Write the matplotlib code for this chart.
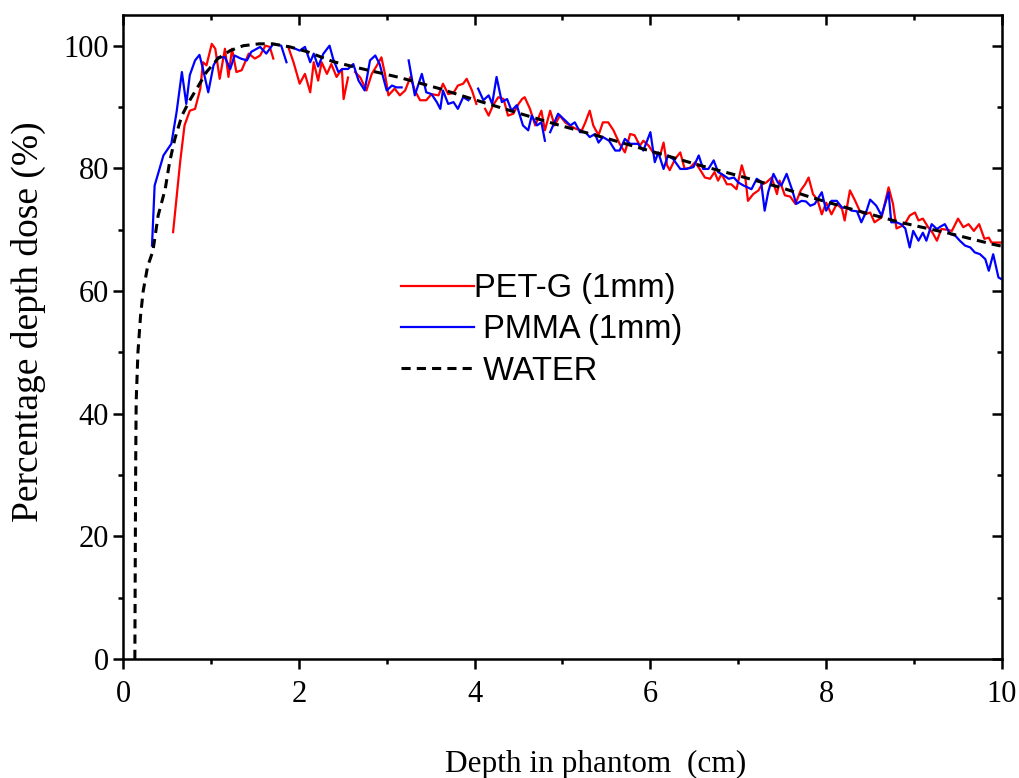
import numpy as np
import matplotlib.pyplot as plt
from matplotlib.ticker import MultipleLocator

nan = np.nan

# PET-G (1mm) (nan = break in the line)
petg_x = [0.57, 0.65, 0.70, 0.76, 0.82, 0.88, 0.91, 0.95, 1.01, 1.05, 1.10, 1.16, 1.20, 1.24, 1.29, 1.35,
          1.43, 1.50, 1.56, 1.62, 1.67, 1.71, 1.80, 1.88, 1.94, 2.01, 2.07, 2.13, 2.17, 2.22, 2.26, 2.32,
          2.37, 2.43, 2.49, 2.51, 2.56, 2.60, 2.64, 2.70, 2.77, 2.83, 2.89, 2.94, 2.98, 3.02, 3.09, 3.15,
          3.21, 3.27, 3.32, 3.38, 3.45, 3.51, 3.59, 3.64, 3.70, 3.76, 3.81, 3.87, 3.91, 3.97, 4.02, 4.07,
          4.12, 4.16, 4.21, 4.27, 4.33, 4.38, 4.44, 4.50, 4.54, 4.57, 4.63, 4.69, 4.76, 4.80, 4.86, 4.91,
          4.97, 5.03, 5.09, 5.16, 5.22, 5.26, 5.31, 5.35, 5.41, 5.46, 5.52, 5.58, 5.65, 5.71, 5.77, 5.82,
          5.88, 5.92, 5.98, 6.03, 6.11, 6.15, 6.19, 6.22, 6.28, 6.34, 6.39, 6.45, 6.51, 6.56, 6.62, 6.68,
          6.73, 6.77, 6.81, 6.87, 6.92, 6.98, 7.04, 7.08, 7.11, 7.17, 7.23, 7.27, 7.32, 7.38, 7.44, 7.47,
          7.53, 7.59, 7.65, 7.71, 7.76, 7.80, 7.85, 7.90, 7.95, 8.00, 8.06, 8.12, 8.18, 8.21, 8.27, 8.33,
          8.38, 8.44, 8.50, 8.55, 8.63, 8.71, 8.76, 8.80, 8.86, 8.91, 8.95, 9.01, 9.05, 9.10, 9.16, 9.21,
          9.26, 9.31, 9.37, 9.43, 9.50, 9.56, 9.62, 9.68, 9.74, 9.80, 9.85, 9.88, 9.96, 10.0]
petg_y = [69.6, 81.0, 87.0, 89.4, 89.7, 93.0, 97.3, 96.8, 100.3, 99.5, 94.6, 99.5, 94.9, 99.5, 95.7, 96.0,
          98.7, 97.9, 98.4, 100.0, 99.8, 97.9, nan, 99.8, 97.3, 93.8, 95.4, 92.4, 97.3, 94.3, 97.3, 95.4,
          97.0, 94.9, 96.2, 91.3, 94.8, nan, 95.7, 94.8, 92.7, 95.4, 96.8, 98.1, 95.4, 91.9, 93.0, 91.9,
          92.7, 94.9, 92.7, 91.1, 91.1, 92.1, 91.9, 93.8, 92.1, 92.3, 93.5, 93.8, 94.6, 92.7, 90.5, nan,
          89.7, 88.6, 90.3, 91.6, 91.3, 88.6, 88.9, 90.5, 91.3, 91.6, 89.7, 87.0, 89.4, 86.2, 89.4, 87.0,
          88.6, 87.5, 86.9, 86.4, 86.2, 87.5, 89.4, 87.0, 85.4, 87.5, 87.5, 86.2, 84.0, 82.6, 85.6, 85.4,
          83.7, 84.5, 83.7, 82.6, 82.1, 84.2, 80.5, 79.7, 81.5, 82.6, 79.9, 80.1, 81.0, 79.9, 78.5, 78.3,
          79.4, 78.0, 79.1, 77.4, 77.4, 76.6, 80.5, 78.5, 74.7, 75.8, 76.4, 77.4, 77.7, 78.5, 75.8, 78.0,
          75.6, 75.4, 74.2, 76.4, 77.4, 78.5, 75.8, 74.9, 72.5, 74.4, 72.5, 74.2, 73.4, 71.5, 76.4, 74.7,
          73.1, 72.5, 72.8, 71.2, 72.0, 76.9, 74.2, 70.2, 70.6, 71.3, 72.3, 72.8, 71.5, 71.8, 70.4, 69.5,
          68.2, 70.1, 70.0, 69.8, 71.8, 70.4, 70.9, 69.8, 70.9, 68.5, 68.7, 67.9, 67.9, 67.9]

# PMMA (1mm)
pmma_x = [0.33, 0.36, 0.46, 0.55, 0.61, 0.67, 0.72, 0.76, 0.82, 0.87, 0.91, 0.97, 1.03, 1.08, 1.16, 1.22,
          1.27, 1.34, 1.41, 1.46, 1.56, 1.63, 1.71, 1.80, 1.86, 1.91, 1.96, 2.01, 2.07, 2.13, 2.17, 2.22,
          2.28, 2.35, 2.39, 2.45, 2.50, 2.56, 2.62, 2.68, 2.75, 2.81, 2.87, 2.92, 3.00, 3.06, 3.11, 3.17,
          3.21, 3.25, 3.32, 3.40, 3.45, 3.51, 3.57, 3.61, 3.64, 3.70, 3.76, 3.81, 3.87, 3.93, 3.98, 4.04,
          4.10, 4.16, 4.20, 4.25, 4.31, 4.37, 4.42, 4.48, 4.55, 4.61, 4.65, 4.71, 4.76, 4.80, 4.83, 4.86,
          4.95, 5.03, 5.09, 5.14, 5.20, 5.26, 5.31, 5.37, 5.41, 5.46, 5.53, 5.60, 5.65, 5.71, 5.77, 5.86,
          5.92, 6.00, 6.05, 6.09, 6.15, 6.20, 6.26, 6.34, 6.41, 6.49, 6.55, 6.60, 6.66, 6.72, 6.77, 6.83,
          6.89, 6.95, 7.00, 7.06, 7.15, 7.21, 7.26, 7.30, 7.34, 7.40, 7.45, 7.49, 7.55, 7.61, 7.66, 7.72,
          7.77, 7.82, 7.87, 7.95, 8.00, 8.06, 8.12, 8.18, 8.23, 8.29, 8.35, 8.40, 8.46, 8.50, 8.57, 8.63,
          8.71, 8.74, 8.80, 8.85, 8.90, 8.95, 8.99, 9.05, 9.10, 9.14, 9.20, 9.26, 9.30, 9.35, 9.41, 9.47,
          9.52, 9.58, 9.64, 9.69, 9.75, 9.81, 9.85, 9.90, 9.96, 10.0]
pmma_y = [67.4, 77.2, 82.1, 84.0, 89.2, 95.7, 90.5, 95.2, 97.6, 98.5, 96.2, 92.4, 96.8, 98.1, 98.1, 96.2,
          98.4, 97.9, 97.6, 99.0, 99.8, 98.7, 100.3, 100.0, 97.3, nan, 99.5, 99.2, 99.8, 97.3, 98.7, 96.6,
          98.7, 100.0, 97.9, 95.7, 96.2, 96.2, 97.0, 94.3, 92.7, 97.6, 98.4, 97.0, 92.7, 93.5, 93.2, 93.2,
          nan, 97.6, 91.9, 95.4, 92.4, 92.1, 90.8, 89.7, 92.7, 90.5, 90.8, 89.7, 91.6, 91.1, nan, 93.0,
          91.1, 91.9, 90.5, 94.9, 90.8, 91.3, 89.4, 90.3, 87.0, 86.2, 88.6, 87.0, 87.5, 84.5, nan, 85.9,
          88.9, 87.8, 87.0, 87.5, 85.9, 85.9, 85.1, 85.6, 84.2, 85.1, 84.5, 82.9, 82.9, 84.8, 84.0, 84.0,
          82.9, 85.9, 81.0, 82.6, 79.9, 82.1, 81.5, 79.9, 79.9, 80.2, 82.1, 79.9, 79.9, 81.3, 79.4, 78.9,
          78.3, 78.5, 77.7, 77.2, 76.6, 78.3, 77.8, 73.1, 76.1, 79.1, 77.7, 77.2, 79.1, 76.6, 74.2, 74.7,
          74.6, 73.9, 74.2, 76.1, 73.1, 74.7, 74.7, 73.6, 73.6, 73.1, 73.0, 71.2, 73.1, 74.9, 73.9, 72.3,
          76.1, 71.2, 71.2, 70.9, 70.2, 67.1, 69.8, 68.2, 69.5, 68.2, 70.9, 70.1, 70.5, 70.9, 69.3, 69.0,
          68.2, 67.4, 67.1, 66.3, 66.0, 65.2, 63.3, 66.0, 62.2, 61.9]

# WATER
water_x = [0.135, 0.14, 0.145, 0.15, 0.17, 0.20, 0.23, 0.28, 0.34, 0.40, 0.48, 0.53, 0.59, 0.67, 0.76,
           0.86, 0.95, 1.08, 1.22, 1.37, 1.55, 1.70, 1.90, 2.10, 2.39, 2.70, 3.15, 3.60, 4.02, 4.50, 4.97,
           5.50, 6.03, 6.56, 7.00, 7.50, 7.82, 8.30, 8.84, 9.40, 9.90, 10.0]
water_y = [0.0, 18.0, 33.0, 42.0, 50.0, 56.0, 60.0, 64.0, 66.5, 72.3, 76.6, 81.0, 84.8, 88.6, 91.1,
           93.5, 95.7, 97.9, 99.2, 100.0, 100.3, 100.3, 99.8, 99.0, 97.4, 96.3, 94.8, 93.0, 91.1, 89.0, 87.0,
           84.9, 82.7, 80.5, 78.8, 76.8, 75.3, 73.3, 71.2, 69.4, 67.6, 67.3]

fig = plt.figure(figsize=(10.19, 7.78), dpi=100)
ax = fig.add_axes([0.1207, 0.153, 0.8626, 0.8277])

ax.plot(petg_x, petg_y, color='#ff0000', lw=1.6, label='PET-G (1mm)')
ax.plot(pmma_x, pmma_y, color='#0000ff', lw=1.6, label=' PMMA (1mm)')
ax.plot(water_x, water_y, color='black', lw=2.2, ls=(0, (3, 2)), label=' WATER')

ax.set_xlim(0, 10)
ax.set_ylim(0, 105)
ax.xaxis.set_major_locator(MultipleLocator(2))
ax.xaxis.set_minor_locator(MultipleLocator(1))
ax.yaxis.set_major_locator(MultipleLocator(20))
ax.yaxis.set_minor_locator(MultipleLocator(10))

for s in ax.spines.values():
    s.set_linewidth(1.8)
ax.tick_params(which='both', width=1.8, direction='out', top=False, right=False,
               labelsize=22, labelfontfamily='Liberation Serif')
ax.tick_params(which='major', length=7)
ax.tick_params(which='minor', length=3.5)
ax.tick_params(axis='x', pad=8)
ax.tick_params(axis='y', pad=3)

# inward ticks on the top and right sides
sx = ax.secondary_xaxis('top')
sx.xaxis.set_major_locator(MultipleLocator(2))
sx.xaxis.set_minor_locator(MultipleLocator(1))
sx.tick_params(which='major', direction='in', length=7, width=1.8, labeltop=False)
sx.tick_params(which='minor', direction='in', length=3.5, width=1.8)
sy = ax.secondary_yaxis('right')
sy.yaxis.set_major_locator(MultipleLocator(20))
sy.yaxis.set_minor_locator(MultipleLocator(10))
sy.tick_params(which='major', direction='in', length=7, width=1.8, labelright=False)
sy.tick_params(which='minor', direction='in', length=3.5, width=1.8)

ax.set_xlabel('Depth in phantom  (cm)', fontsize=22.5, family='Liberation Serif')
ax.xaxis.set_label_coords(0.538, -0.142)
ax.set_ylabel('Percentage depth dose (%)', fontsize=27, family='Liberation Serif')
ax.yaxis.set_label_coords(-0.088, 0.523)

ax.legend(loc='upper left', bbox_to_anchor=(0.2826, 0.645), frameon=False,
          prop={'family': 'Liberation Sans', 'size': 23.5}, handlelength=2.24,
          handletextpad=0.0, labelspacing=0.32)

fig.savefig('out.png', dpi=100)
